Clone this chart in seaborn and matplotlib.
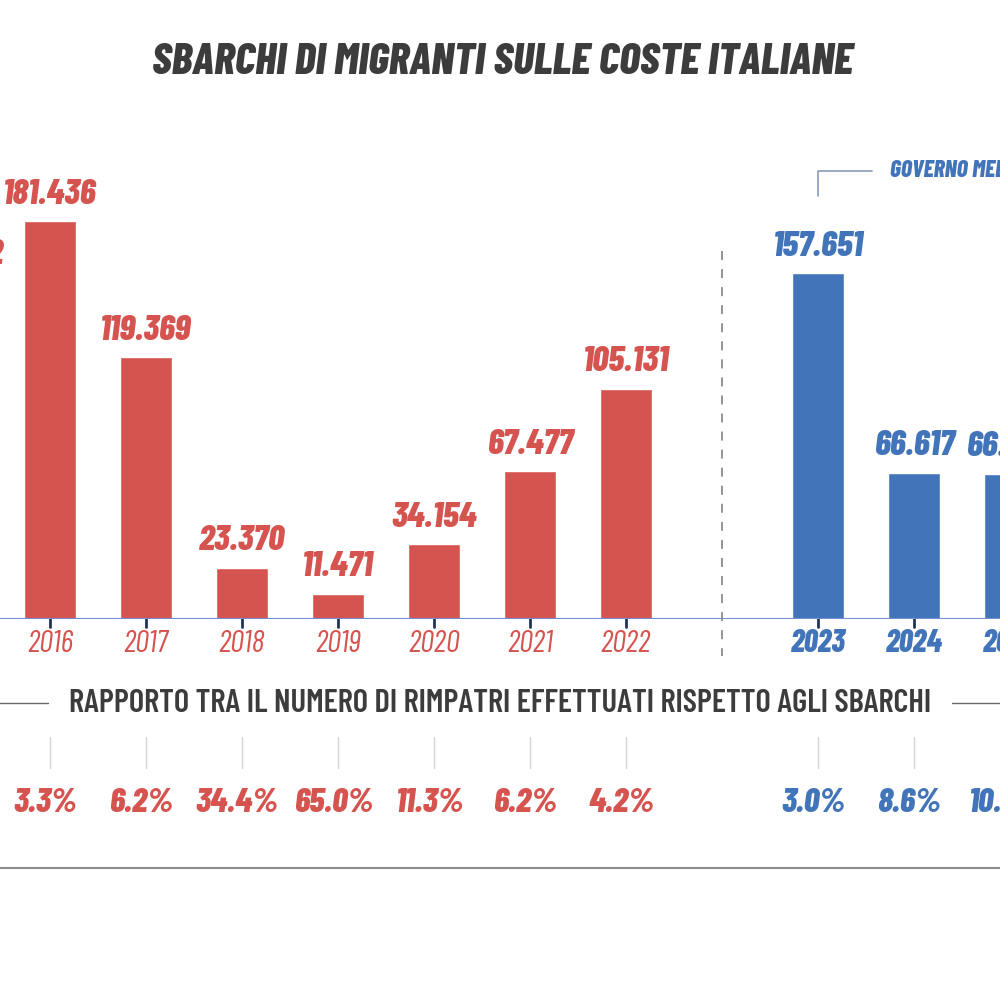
import numpy as np
import pandas as pd
import seaborn as sns
import matplotlib
matplotlib.use("Agg")
import matplotlib.pyplot as plt

# sbarchi per anno (dati Viminale)
anni = [2015, 2016, 2017, 2018, 2019, 2020, 2021, 2022, 2023, 2024, 2025]
sbarchi = [153842, 181436, 119369, 23370, 11471, 34154, 67477, 105131, 157651, 66617, 66296]
rimpatri_pct = [None, 3.3, 6.2, 34.4, 65.0, 11.3, 6.2, 4.2, 3.0, 8.6, 10.5]
periodo = ["prima"] * 8 + ["meloni"] * 3

titolo = "SBARCHI DI MIGRANTI SULLE COSTE ITALIANE"
sottotitolo = "RAPPORTO TRA IL NUMERO DI RIMPATRI EFFETTUATI RISPETTO AGLI SBARCHI"
governo = "GOVERNO MELONI"

ROSSO = "#D6544F"
BLU = "#4274BA"
colori = {"prima": ROSSO, "meloni": BLU}

df = pd.DataFrame({"anno": anni, "sbarchi": sbarchi, "pct": rimpatri_pct, "periodo": periodo})
# slot vuoto tra 2022 e 2023
df["slot"] = [i + (1 if a >= 2023 else 0) for i, a in enumerate(anni)]

sns.set_style("white")
plt.rcParams["font.family"] = ["Barlow Condensed", "DejaVu Sans"]

fig = plt.figure(figsize=(10, 10), dpi=100)
fig.patch.set_facecolor("white")

xlim = (0.479, 10.896)

ax = fig.add_axes([0, 0.381, 1, 0.469])
sns.barplot(data=df, x="slot", y="sbarchi", hue="periodo", palette=colori,
            native_scale=True, width=0.55, dodge=False, saturation=1,
            legend=False, ax=ax)
ax.set_xlim(*xlim)
ax.set_ylim(0, 214000)
ax.axis("off")
ax.axhline(0, color="#6F90CC", lw=1.5)

for _, r in df.iterrows():
    c = colori[r["periodo"]]
    lab = f"{r['sbarchi']:,}".replace(",", ".")
    ax.annotate(lab, (r["slot"], r["sbarchi"]), xytext=(0, 8), textcoords="offset points",
                ha="center", va="bottom", fontsize=26, fontweight=800, style="italic",
                color=c, annotation_clip=False, clip_on=True)

# linea tratteggiata tra i due periodi
ax.plot([8, 8], [168000, -17000], color="#8C8C8C", lw=1.3, ls=(0, (5, 5)), clip_on=False)

# etichetta governo
ax.plot([9, 9, 9.56], [193000, 204500, 204500], color="#8A9AB8", lw=1.2, clip_on=False)
ax.text(9.75, 204500, governo, ha="left", va="center", fontsize=17, fontweight=800,
        style="italic", color=BLU, clip_on=True)

# parte inferiore
ax2 = fig.add_axes([0, 0, 1, 0.381])
ax2.set_xlim(*xlim)
ax2.set_ylim(1000, 619)
ax2.axis("off")

for _, r in df.iterrows():
    c = colori[r["periodo"]]
    meloni = r["periodo"] == "meloni"
    ax2.plot([r["slot"], r["slot"]], [619, 627], color="#1E3558", lw=2, clip_on=True)
    ax2.text(r["slot"], 644, str(r["anno"]), ha="center", va="center", fontsize=22.5,
             style="italic", fontweight=800 if meloni else "normal", color=c, clip_on=True)
    ax2.plot([r["slot"], r["slot"]], [737, 768], color="#D5D5D5", lw=1, clip_on=True)
    if r["pct"] is not None and not pd.isna(r["pct"]):
        ax2.text(r["slot"] - 0.05, 803, f"{r['pct']:.1f}%", ha="center", va="center", fontsize=25,
                 fontweight=800, style="italic", color=c, clip_on=True)

fig.text(0.502, 0.938, titolo, ha="center", va="center", fontsize=32, fontweight=800,
         style="italic", color="#3C3C3C")
fig.text(0.5, 0.297, sottotitolo, ha="center", va="center", fontsize=23.5, fontweight="semibold",
         color="#3C3C3C")
fig.add_artist(plt.Line2D([0, 0.048], [0.297, 0.297], color="#666666", lw=1))
fig.add_artist(plt.Line2D([0.952, 1], [0.297, 0.297], color="#666666", lw=1))
fig.add_artist(plt.Line2D([0, 1], [0.132, 0.132], color="#8A8A8A", lw=1.5))

fig.savefig("out.png", dpi=100, facecolor="white")
